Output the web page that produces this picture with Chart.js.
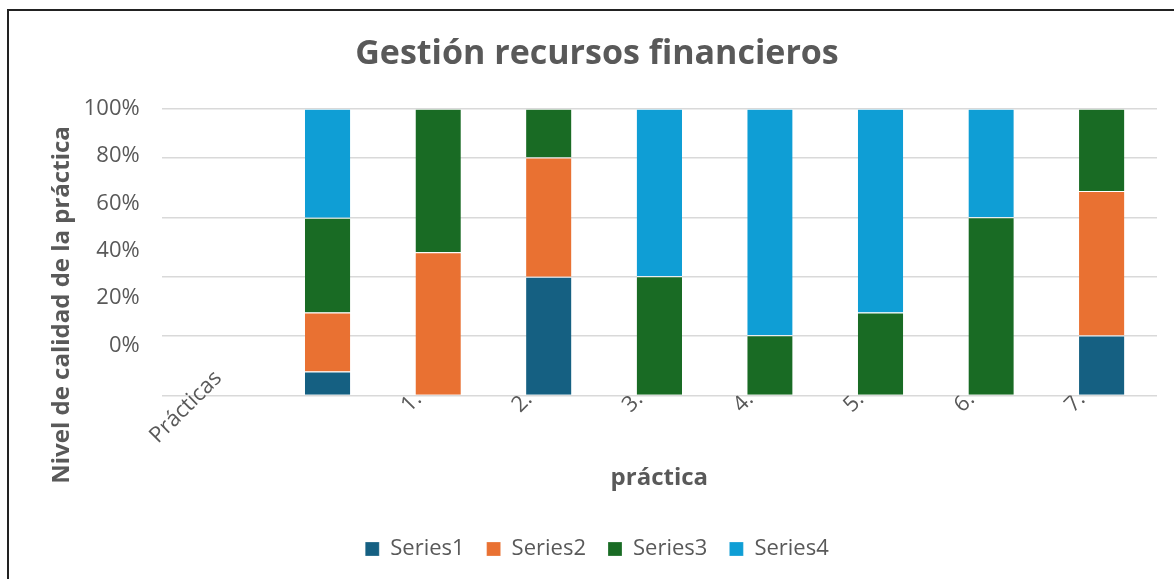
<!DOCTYPE html>
<html lang="es">
<head>
<meta charset="utf-8">
<title>Gestión recursos financieros</title>
<script src="https://cdn.jsdelivr.net/npm/chart.js@4.4.1/dist/chart.umd.min.js"></script>
<style>
  html, body { margin: 0; padding: 0; background: #fff; overflow: hidden; }
  #marco { position: absolute; left: 7px; top: 9px; width: 1180px; height: 600px; border: 2px solid #222; }
  #grafico { position: absolute; left: 9px; top: 11px; }
</style>
</head>
<body>
<div id="marco"></div>
<canvas id="grafico" width="1165" height="568"></canvas>
<script>
// Datos (porcentaje de cada nivel por práctica)
const categorias = ['Prácticas', '', '1.', '2.', '3.', '4.', '5.', '6.', '7.'];
const serie1 = [null, 8.4, null, 41.4, null, null, null, null, 20.9];
const serie2 = [null, 20.6, 50, 41.6, null, null, null, null, 50.4];
const serie3 = [null, 33, 50, 17, 41.6, 21, 29, 62.2, 28.7];
const serie4 = [null, 38, null, null, 58.4, 79, 71, 37.8, null];
const nombresSeries = ['Series1', 'Series2', 'Series3', 'Series4'];
const coloresSeries = ['#156082', '#E97132', '#196B24', '#0F9ED5'];

// Etiquetas del eje Y y nivel de las líneas de la cuadrícula (en el original no coinciden)
const etiquetasY = [0, 20, 40, 60, 80, 100];
const nivelesRejilla = [0, 21, 41.4, 62, 83, 100];

const GRIS = '#595959';
const FUENTE = "'Open Sans', 'Noto Sans', sans-serif";
Chart.defaults.font.family = FUENTE;
Chart.defaults.color = GRIS;

// Título del eje Y dibujado a mano (en el original no está centrado con el área)
const tituloEjeY = {
  id: 'tituloEjeY',
  afterDraw(chart, args, opts) {
    const ctx = chart.ctx;
    ctx.save();
    ctx.translate(opts.x, opts.y);
    ctx.rotate(-Math.PI / 2);
    ctx.font = 'bold 24px ' + FUENTE;
    ctx.fillStyle = GRIS;
    ctx.textAlign = 'center';
    ctx.textBaseline = 'middle';
    ctx.fillText(opts.texto, 0, 0);
    ctx.restore();
  }
};

const series = [serie1, serie2, serie3, serie4];
const datasets = series.map((datos, i) => ({
  label: nombresSeries[i],
  data: datos,
  backgroundColor: coloresSeries[i],
  borderColor: '#ffffff',
  borderWidth: { top: 1, bottom: 0, left: 0, right: 0 },
  borderSkipped: false,
  barPercentage: 0.41,
  categoryPercentage: 1
}));

const sinRelleno = eje => { eje.paddingLeft = 0; eje.paddingRight = 0; };

new Chart(document.getElementById('grafico'), {
  type: 'bar',
  data: { labels: categorias, datasets: datasets },
  options: {
    responsive: false,
    animation: false,
    layout: { padding: { left: 28, right: 17, top: 0, bottom: 9 } },
    plugins: {
      title: {
        display: true,
        text: 'Gestión recursos financieros',
        color: GRIS,
        font: { size: 34, weight: 'bold' },
        padding: { top: 23, bottom: 34 }
      },
      legend: {
        position: 'bottom',
        labels: {
          boxWidth: 14, boxHeight: 14, padding: 22,
          color: GRIS,
          font: { size: 22 }
        }
      },
      tooltip: { enabled: false },
      tituloEjeY: { texto: 'Nivel de calidad de la práctica', x: 53, y: 294 }
    },
    scales: {
      x: {
        stacked: true,
        grid: { display: false },
        border: { display: false },
        afterFit: sinRelleno,
        ticks: {
          minRotation: 45, maxRotation: 45, padding: -17, labelOffset: -20,
          autoSkip: false, color: GRIS, font: { size: 22 },
          callback: (v, i) => i === 0 ? '' : categorias[i]
        },
        title: {
          display: true,
          text: 'práctica',
          color: GRIS,
          font: { size: 24, weight: 'bold' },
          padding: { top: 63, bottom: 23 }
        }
      },
      // eje sólo para la etiqueta "Prácticas", que en el original queda más arriba
      xPracticas: {
        type: 'category',
        position: { y: 4 },
        grid: { display: false, drawTicks: false },
        border: { display: false },
        afterFit: sinRelleno,
        ticks: {
          minRotation: 45, maxRotation: 45, padding: 0, labelOffset: 20, mirror: true,
          autoSkip: false, color: GRIS, font: { size: 22 },
          callback: (v, i) => i === 0 ? categorias[0] : ''
        }
      },
      y: {
        stacked: true,
        min: 0,
        max: 100,
        position: 'left',
        afterBuildTicks: eje => { eje.ticks = nivelesRejilla.map(v => ({ value: v })); },
        grid: { color: '#D9D9D9', lineWidth: 1.5, drawTicks: false },
        border: { display: false },
        ticks: { display: false }
      },
      yEtiquetas: {
        position: 'left',
        min: -21.2,
        max: 100,
        afterBuildTicks: eje => { eje.ticks = etiquetasY.map(v => ({ value: v })); },
        afterFit: eje => { eje.width = 124.7; },
        grid: { display: false, drawTicks: false },
        border: { display: false },
        ticks: { padding: 22, color: GRIS, font: { size: 22 }, callback: v => v + '%' }
      }
    }
  },
  plugins: [tituloEjeY]
});
</script>
</body>
</html>
